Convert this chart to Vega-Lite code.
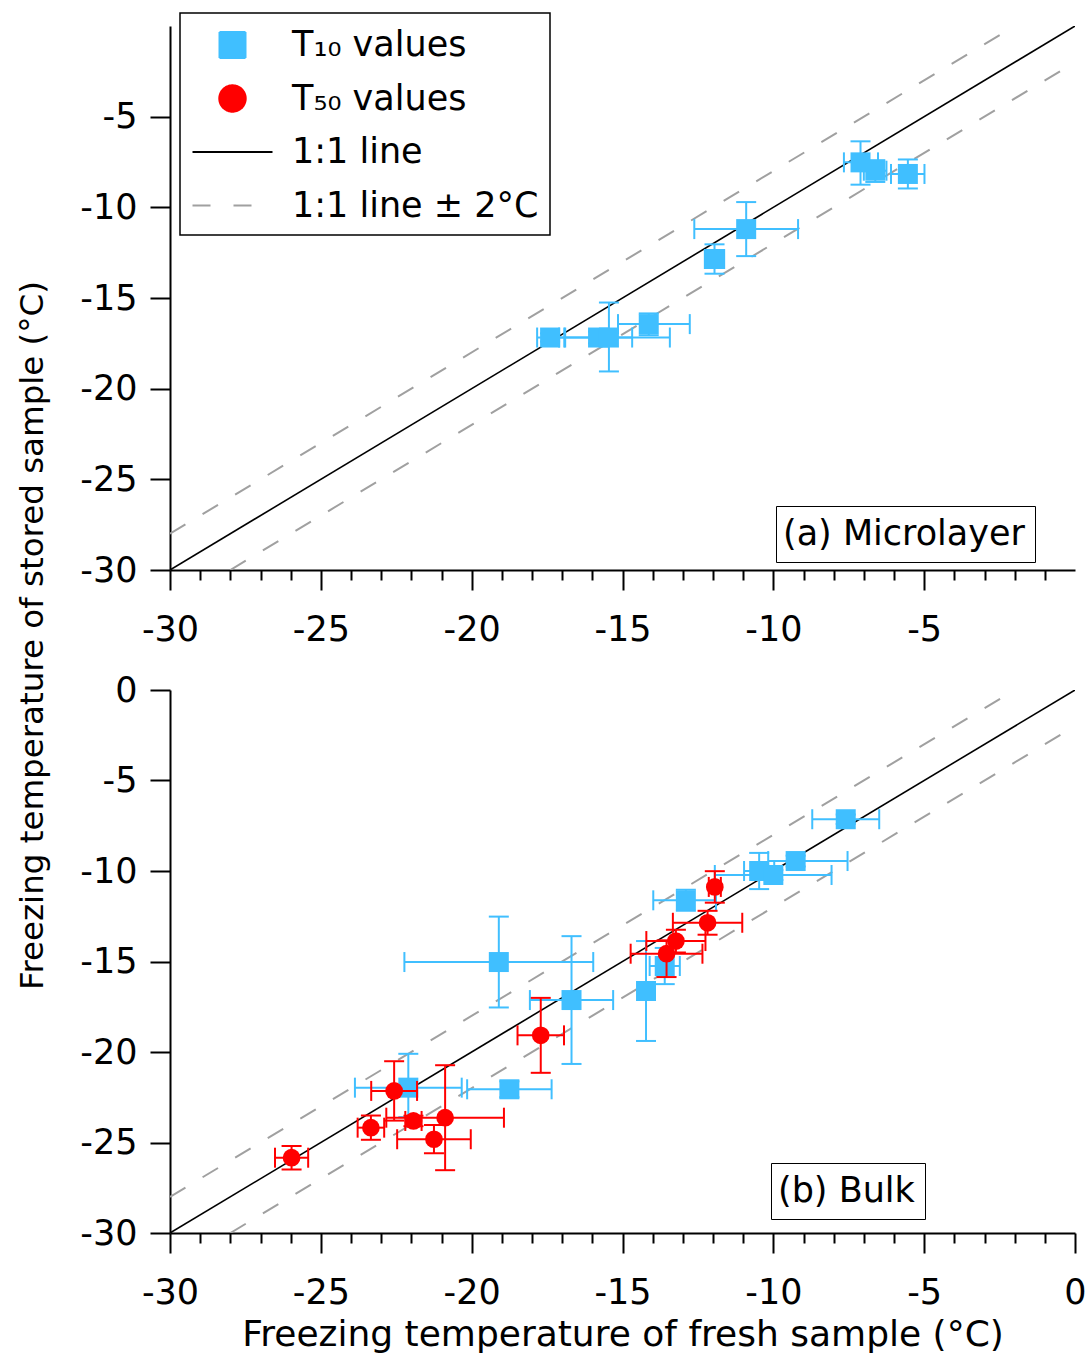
{
  "$schema": "https://vega.github.io/schema/vega-lite/v6.json",
  "autosize": {"type": "pad"},
  "padding": {"left": 16, "top": 12, "right": 4, "bottom": 5},
  "background": "white",
  "bounds": "flush",
  "spacing": 120,
  "config": {
    "view": {"stroke": null},
    "font": "DejaVu Sans",
    "axis": {
      "grid": false, "domainColor": "black", "domainWidth": 2, "tickColor": "black", "tickWidth": 2, "tickSize": 20,
      "labelFont": "DejaVu Sans", "labelFontSize": 35, "labelColor": "black",
      "titleFont": "DejaVu Sans", "titleFontSize": 36, "titleFontWeight": "normal", "titleColor": "black",
      "labelFlush": false, "labelOverlap": false, "labelBound": false
    },
    "axisX": {"labelPadding": 22, "titlePadding": 7},
    "axisY": {"labelPadding": 13},
    "legend": {"labelFont": "DejaVu Sans", "labelFontSize": 35, "labelColor": "black", "labelLimit": 2000, "strokeColor": "black"}
  },
  "datasets": {
    "diag": [
      {"series": "1:1 line", "grp": "s", "x": -30, "y": -30},
      {"series": "1:1 line", "grp": "s", "x": 0, "y": 0},
      {"series": "1:1 line ± 2°C", "grp": "u", "x": -30, "y": -28},
      {"series": "1:1 line ± 2°C", "grp": "u", "x": -2, "y": 0},
      {"series": "1:1 line ± 2°C", "grp": "l", "x": -28, "y": -30},
      {"series": "1:1 line ± 2°C", "grp": "l", "x": 0, "y": -2}
    ],
    "top10": [
      {"series": "T₁₀ values", "panel": "(a) Microlayer", "x": -7.11, "y": -7.52, "xlo": -7.66, "xhi": -6.53, "ylo": -8.75, "yhi": -6.36},
      {"series": "T₁₀ values", "panel": "(a) Microlayer", "x": -6.62, "y": -7.98, "xlo": -7.0, "xhi": -6.25, "ylo": -8.6, "yhi": -7.4},
      {"series": "T₁₀ values", "panel": "(a) Microlayer", "x": -5.54, "y": -8.16, "xlo": -6.1, "xhi": -4.99, "ylo": -8.96, "yhi": -7.36},
      {"series": "T₁₀ values", "panel": "(a) Microlayer", "x": -10.9, "y": -11.2, "xlo": -12.62, "xhi": -9.18, "ylo": -12.69, "yhi": -9.71},
      {"series": "T₁₀ values", "panel": "(a) Microlayer", "x": -11.95, "y": -12.85, "xlo": -12.27, "xhi": -11.63, "ylo": -13.66, "yhi": -12.04},
      {"series": "T₁₀ values", "panel": "(a) Microlayer", "x": -14.13, "y": -16.44, "xlo": -15.15, "xhi": -12.77, "ylo": -17.05, "yhi": -15.85},
      {"series": "T₁₀ values", "panel": "(a) Microlayer", "x": -17.4, "y": -17.18, "xlo": -17.83, "xhi": -16.9, "ylo": -17.4, "yhi": -16.95},
      {"series": "T₁₀ values", "panel": "(a) Microlayer", "x": -15.81, "y": -17.18, "xlo": -16.93, "xhi": -14.68, "ylo": -17.5, "yhi": -16.85},
      {"series": "T₁₀ values", "panel": "(a) Microlayer", "x": -15.45, "y": -17.18, "xlo": -17.1, "xhi": -13.43, "ylo": -19.05, "yhi": -15.25}
    ],
    "bot10": [
      {"series": "T₁₀ values", "panel": "(b) Bulk", "x": -22.1, "y": -21.97, "xlo": -23.87, "xhi": -20.33, "ylo": -23.6, "yhi": -20.1},
      {"series": "T₁₀ values", "panel": "(b) Bulk", "x": -18.75, "y": -22.06, "xlo": -20.15, "xhi": -17.35, "ylo": -22.5, "yhi": -21.62},
      {"series": "T₁₀ values", "panel": "(b) Bulk", "x": -19.1, "y": -15.03, "xlo": -22.23, "xhi": -15.97, "ylo": -17.54, "yhi": -12.52},
      {"series": "T₁₀ values", "panel": "(b) Bulk", "x": -16.69, "y": -17.13, "xlo": -18.07, "xhi": -15.31, "ylo": -20.66, "yhi": -13.6},
      {"series": "T₁₀ values", "panel": "(b) Bulk", "x": -14.22, "y": -16.63, "xlo": -14.4, "xhi": -14.04, "ylo": -19.39, "yhi": -13.87},
      {"series": "T₁₀ values", "panel": "(b) Bulk", "x": -13.6, "y": -15.25, "xlo": -14.1, "xhi": -13.1, "ylo": -16.25, "yhi": -14.25},
      {"series": "T₁₀ values", "panel": "(b) Bulk", "x": -12.9, "y": -11.62, "xlo": -13.98, "xhi": -11.9, "ylo": -12.2, "yhi": -11.04},
      {"series": "T₁₀ values", "panel": "(b) Bulk", "x": -10.47, "y": -10.0, "xlo": -10.97, "xhi": -9.97, "ylo": -11.0, "yhi": -9.0},
      {"series": "T₁₀ values", "panel": "(b) Bulk", "x": -10.0, "y": -10.22, "xlo": -11.94, "xhi": -8.07, "ylo": -10.5, "yhi": -9.95},
      {"series": "T₁₀ values", "panel": "(b) Bulk", "x": -9.26, "y": -9.45, "xlo": -10.17, "xhi": -7.54, "ylo": -9.75, "yhi": -9.15},
      {"series": "T₁₀ values", "panel": "(b) Bulk", "x": -7.6, "y": -7.14, "xlo": -8.71, "xhi": -6.49, "ylo": -7.4, "yhi": -6.88}
    ],
    "bot50": [
      {"series": "T₅₀ values", "panel": "(b) Bulk", "x": -25.97, "y": -25.84, "xlo": -26.52, "xhi": -25.42, "ylo": -26.49, "yhi": -25.19},
      {"series": "T₅₀ values", "panel": "(b) Bulk", "x": -23.34, "y": -24.18, "xlo": -23.78, "xhi": -22.9, "ylo": -24.85, "yhi": -23.51},
      {"series": "T₅₀ values", "panel": "(b) Bulk", "x": -22.57, "y": -22.15, "xlo": -23.33, "xhi": -21.81, "ylo": -23.79, "yhi": -20.51},
      {"series": "T₅₀ values", "panel": "(b) Bulk", "x": -21.93, "y": -23.81, "xlo": -22.2, "xhi": -21.66, "ylo": -24.1, "yhi": -23.52},
      {"series": "T₅₀ values", "panel": "(b) Bulk", "x": -20.88, "y": -23.63, "xlo": -22.83, "xhi": -18.93, "ylo": -26.53, "yhi": -20.73},
      {"series": "T₅₀ values", "panel": "(b) Bulk", "x": -21.25, "y": -24.82, "xlo": -22.47, "xhi": -20.03, "ylo": -25.6, "yhi": -24.04},
      {"series": "T₅₀ values", "panel": "(b) Bulk", "x": -17.71, "y": -19.08, "xlo": -18.48, "xhi": -16.94, "ylo": -21.15, "yhi": -17.01},
      {"series": "T₅₀ values", "panel": "(b) Bulk", "x": -13.54, "y": -14.57, "xlo": -14.73, "xhi": -12.35, "ylo": -15.86, "yhi": -13.83},
      {"series": "T₅₀ values", "panel": "(b) Bulk", "x": -13.23, "y": -13.87, "xlo": -14.21, "xhi": -12.25, "ylo": -14.5, "yhi": -13.25},
      {"series": "T₅₀ values", "panel": "(b) Bulk", "x": -12.18, "y": -12.86, "xlo": -13.33, "xhi": -11.03, "ylo": -13.52, "yhi": -12.2},
      {"series": "T₅₀ values", "panel": "(b) Bulk", "x": -11.94, "y": -10.88, "xlo": -12.14, "xhi": -11.74, "ylo": -11.75, "yhi": -10.01}
    ]
  },
  "resolve": {
    "scale": {"color": "independent", "opacity": "independent"},
    "legend": {"color": "independent", "opacity": "independent"}
  },
  "vconcat": [
    {
      "width": 905,
      "height": 544,
      "layer": [
        {
          "data": {"name": "diag"},
          "transform": [{"filter": "datum.grp === 's'"}],
          "mark": {"type": "line", "strokeWidth": 1.6, "clip": true},
          "encoding": {
            "x": {"field": "x", "type": "quantitative", "title": null,
              "scale": {"domain": [-30, 0], "nice": false, "zero": false},
              "axis": {
                "values": [-30, -29, -28, -27, -26, -25, -24, -23, -22, -21, -20, -19, -18, -17, -16, -15, -14, -13, -12, -11, -10, -9, -8, -7, -6, -5, -4, -3, -2, -1],
                "tickCount": 60,
                "labelExpr": "datum.value % 5 === 0 ? '' + datum.value : ''",
                "tickDash": {"condition": {"test": "datum.value % 5 !== 0", "value": [10, 10]}, "value": [1, 0]}
              }},
            "y": {"field": "y", "type": "quantitative",
              "scale": {"domain": [-30, 0], "nice": false, "zero": false},
              "title": "Freezing temperature of stored sample (°C)",
              "axis": {
                "values": [-30, -25, -20, -15, -10, -5],
                "labelExpr": "'' + datum.value",
                "titleFontSize": 32.5,
                "titleX": -138, "titleY": 609, "titleAngle": 270, "titleAlign": "center", "titleBaseline": "middle"
              }},
            "detail": {"field": "grp"},
            "color": {"field": "series", "type": "nominal",
              "scale": {"domain": ["T₁₀ values", "T₅₀ values", "1:1 line", "1:1 line ± 2°C"], "range": ["#40BFFF", "#FF0000", "#000000", "#A0A0A0"]},
              "legend": {
                "title": null, "orient": "none", "legendX": 10, "legendY": -13,
                "padding": 11, "symbolSize": 1600, "symbolOffset": 20.5, "labelOffset": 38.5, "rowPadding": 14.5,
                "encode": {
                  "legend": {"update": {"strokeWidth": {"value": 1.5}}},
                  "symbols": {"update": {
                    "shape": {"signal": "datum.index === 0 ? 'M-0.65,-0.65H0.65V0.65H-0.65Z' : datum.index === 1 ? 'M-0.66,0A0.66,0.66,0,1,1,0.66,0A0.66,0.66,0,1,1,-0.66,0Z' : 'M-2,0H2'"},
                    "fill": {"signal": "datum.index === 0 ? '#40BFFF' : datum.index === 1 ? '#FF0000' : 'transparent'"},
                    "stroke": {"signal": "datum.index === 2 ? '#000000' : datum.index === 3 ? '#A0A0A0' : 'transparent'"},
                    "strokeDash": {"signal": "datum.index === 3 ? [18, 23] : [1, 0]"},
                    "strokeWidth": {"value": 2},
                    "opacity": {"value": 1}
                  }}
                }
              }}
          }
        },
        {
          "data": {"name": "diag"},
          "transform": [{"filter": "datum.grp !== 's'"}],
          "mark": {"type": "line", "strokeWidth": 2, "strokeDash": [18, 20], "clip": true},
          "encoding": {
            "x": {"field": "x", "type": "quantitative"},
            "y": {"field": "y", "type": "quantitative"},
            "detail": {"field": "grp"},
            "color": {"field": "series", "type": "nominal"}
          }
        },
        {
          "data": {"name": "top10"},
          "layer": [
            {"mark": {"type": "rule", "strokeWidth": 2}, "encoding": {"x": {"field": "xlo", "type": "quantitative"}, "x2": {"field": "xhi"}, "y": {"field": "y", "type": "quantitative"}, "color": {"field": "series", "type": "nominal"}}},
            {"mark": {"type": "rule", "strokeWidth": 2}, "encoding": {"x": {"field": "x", "type": "quantitative"}, "y": {"field": "ylo", "type": "quantitative"}, "y2": {"field": "yhi"}, "color": {"field": "series", "type": "nominal"}}},
            {"mark": {"type": "tick", "orient": "vertical", "size": 20, "thickness": 2, "opacity": 1}, "encoding": {"x": {"field": "xlo", "type": "quantitative"}, "y": {"field": "y", "type": "quantitative"}, "color": {"field": "series", "type": "nominal"}}},
            {"mark": {"type": "tick", "orient": "vertical", "size": 20, "thickness": 2, "opacity": 1}, "encoding": {"x": {"field": "xhi", "type": "quantitative"}, "y": {"field": "y", "type": "quantitative"}, "color": {"field": "series", "type": "nominal"}}},
            {"mark": {"type": "tick", "orient": "horizontal", "size": 20, "thickness": 2, "opacity": 1}, "encoding": {"x": {"field": "x", "type": "quantitative"}, "y": {"field": "ylo", "type": "quantitative"}, "color": {"field": "series", "type": "nominal"}}},
            {"mark": {"type": "tick", "orient": "horizontal", "size": 20, "thickness": 2, "opacity": 1}, "encoding": {"x": {"field": "x", "type": "quantitative"}, "y": {"field": "yhi", "type": "quantitative"}, "color": {"field": "series", "type": "nominal"}}},
            {"mark": {"type": "point", "shape": "square", "filled": true, "size": 400, "opacity": 1},
             "encoding": {
               "x": {"field": "x", "type": "quantitative"},
               "y": {"field": "y", "type": "quantitative"},
               "color": {"field": "series", "type": "nominal"},
               "opacity": {"field": "panel", "type": "nominal", "scale": {"range": [1, 1]},
                 "legend": {"title": null, "orient": "none", "legendX": 606, "legendY": 480, "padding": 10, "symbolSize": 0, "labelOffset": -38}}
             }}
          ]
        }
      ]
    },
    {
      "width": 905,
      "height": 543,
      "layer": [
        {
          "data": {"name": "diag"},
          "transform": [{"filter": "datum.grp === 's'"}],
          "mark": {"type": "line", "strokeWidth": 1.6, "clip": true},
          "encoding": {
            "x": {"field": "x", "type": "quantitative", "title": "Freezing temperature of fresh sample (°C)",
              "scale": {"domain": [-30, 0], "nice": false, "zero": false},
              "axis": {
                "values": [-30, -29, -28, -27, -26, -25, -24, -23, -22, -21, -20, -19, -18, -17, -16, -15, -14, -13, -12, -11, -10, -9, -8, -7, -6, -5, -4, -3, -2, -1, 0],
                "tickCount": 60,
                "labelExpr": "datum.value % 5 === 0 ? '' + datum.value : ''",
                "tickDash": {"condition": {"test": "datum.value % 5 !== 0", "value": [10, 10]}, "value": [1, 0]}
              }},
            "y": {"field": "y", "type": "quantitative", "title": null,
              "scale": {"domain": [-30, 0], "nice": false, "zero": false},
              "axis": {"values": [-30, -25, -20, -15, -10, -5, 0], "labelExpr": "'' + datum.value"}},
            "detail": {"field": "grp"},
            "color": {"field": "series", "type": "nominal",
              "scale": {"domain": ["T₁₀ values", "T₅₀ values", "1:1 line", "1:1 line ± 2°C"], "range": ["#40BFFF", "#FF0000", "#000000", "#A0A0A0"]},
              "legend": null}
          }
        },
        {
          "data": {"name": "diag"},
          "transform": [{"filter": "datum.grp !== 's'"}],
          "mark": {"type": "line", "strokeWidth": 2, "strokeDash": [18, 20], "clip": true},
          "encoding": {
            "x": {"field": "x", "type": "quantitative"},
            "y": {"field": "y", "type": "quantitative"},
            "detail": {"field": "grp"},
            "color": {"field": "series", "type": "nominal"}
          }
        },
        {
          "data": {"name": "bot10"},
          "layer": [
            {"mark": {"type": "rule", "strokeWidth": 2}, "encoding": {"x": {"field": "xlo", "type": "quantitative"}, "x2": {"field": "xhi"}, "y": {"field": "y", "type": "quantitative"}, "color": {"field": "series", "type": "nominal"}}},
            {"mark": {"type": "rule", "strokeWidth": 2}, "encoding": {"x": {"field": "x", "type": "quantitative"}, "y": {"field": "ylo", "type": "quantitative"}, "y2": {"field": "yhi"}, "color": {"field": "series", "type": "nominal"}}},
            {"mark": {"type": "tick", "orient": "vertical", "size": 20, "thickness": 2, "opacity": 1}, "encoding": {"x": {"field": "xlo", "type": "quantitative"}, "y": {"field": "y", "type": "quantitative"}, "color": {"field": "series", "type": "nominal"}}},
            {"mark": {"type": "tick", "orient": "vertical", "size": 20, "thickness": 2, "opacity": 1}, "encoding": {"x": {"field": "xhi", "type": "quantitative"}, "y": {"field": "y", "type": "quantitative"}, "color": {"field": "series", "type": "nominal"}}},
            {"mark": {"type": "tick", "orient": "horizontal", "size": 20, "thickness": 2, "opacity": 1}, "encoding": {"x": {"field": "x", "type": "quantitative"}, "y": {"field": "ylo", "type": "quantitative"}, "color": {"field": "series", "type": "nominal"}}},
            {"mark": {"type": "tick", "orient": "horizontal", "size": 20, "thickness": 2, "opacity": 1}, "encoding": {"x": {"field": "x", "type": "quantitative"}, "y": {"field": "yhi", "type": "quantitative"}, "color": {"field": "series", "type": "nominal"}}},
            {"mark": {"type": "point", "shape": "square", "filled": true, "size": 400, "opacity": 1},
             "encoding": {
               "x": {"field": "x", "type": "quantitative"},
               "y": {"field": "y", "type": "quantitative"},
               "color": {"field": "series", "type": "nominal"},
               "opacity": {"field": "panel", "type": "nominal", "scale": {"range": [1, 1]},
                 "legend": {"title": null, "orient": "none", "legendX": 601, "legendY": 473, "padding": 10, "symbolSize": 0, "labelOffset": -38}}
             }}
          ]
        },
        {
          "data": {"name": "bot50"},
          "layer": [
            {"mark": {"type": "rule", "strokeWidth": 2}, "encoding": {"x": {"field": "xlo", "type": "quantitative"}, "x2": {"field": "xhi"}, "y": {"field": "y", "type": "quantitative"}, "color": {"field": "series", "type": "nominal"}}},
            {"mark": {"type": "rule", "strokeWidth": 2}, "encoding": {"x": {"field": "x", "type": "quantitative"}, "y": {"field": "ylo", "type": "quantitative"}, "y2": {"field": "yhi"}, "color": {"field": "series", "type": "nominal"}}},
            {"mark": {"type": "tick", "orient": "vertical", "size": 20, "thickness": 2, "opacity": 1}, "encoding": {"x": {"field": "xlo", "type": "quantitative"}, "y": {"field": "y", "type": "quantitative"}, "color": {"field": "series", "type": "nominal"}}},
            {"mark": {"type": "tick", "orient": "vertical", "size": 20, "thickness": 2, "opacity": 1}, "encoding": {"x": {"field": "xhi", "type": "quantitative"}, "y": {"field": "y", "type": "quantitative"}, "color": {"field": "series", "type": "nominal"}}},
            {"mark": {"type": "tick", "orient": "horizontal", "size": 20, "thickness": 2, "opacity": 1}, "encoding": {"x": {"field": "x", "type": "quantitative"}, "y": {"field": "ylo", "type": "quantitative"}, "color": {"field": "series", "type": "nominal"}}},
            {"mark": {"type": "tick", "orient": "horizontal", "size": 20, "thickness": 2, "opacity": 1}, "encoding": {"x": {"field": "x", "type": "quantitative"}, "y": {"field": "yhi", "type": "quantitative"}, "color": {"field": "series", "type": "nominal"}}},
            {"mark": {"type": "point", "shape": "circle", "filled": true, "size": 314, "opacity": 1},
             "encoding": {
               "x": {"field": "x", "type": "quantitative"},
               "y": {"field": "y", "type": "quantitative"},
               "color": {"field": "series", "type": "nominal"}
             }}
          ]
        }
      ]
    }
  ]
}
